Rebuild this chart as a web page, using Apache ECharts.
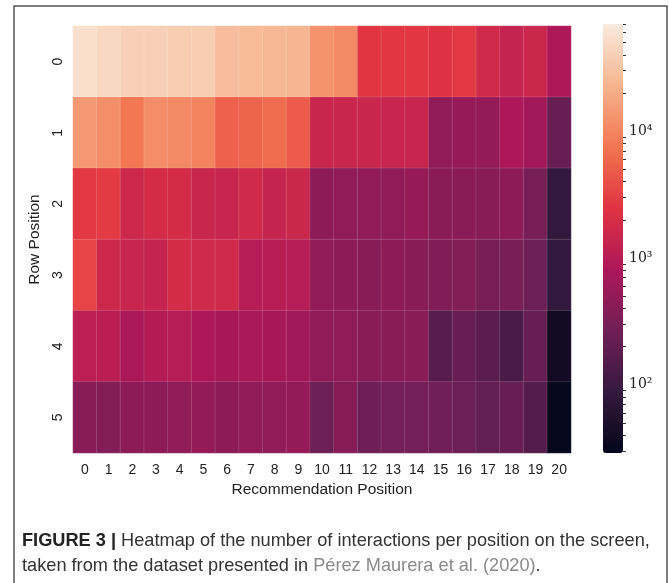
<!DOCTYPE html>
<html>
<head>
<meta charset="utf-8">
<script src="https://cdn.jsdelivr.net/npm/echarts@6/dist/echarts.min.js"></script>
<style>
  html, body { margin: 0; background: #fff; }
  #chart { width: 669px; height: 583px; }
</style>
</head>
<body>
<div id="chart"></div>
<script>
// recommendation position (x) and row position (y)
const colLabels = ['0','1','2','3','4','5','6','7','8','9','10','11','12','13','14','15','16','17','18','19','20'];
const rowLabels = ['0','1','2','3','4','5'];

// interaction counts per cell
const row0 = [55700, 47700, 40900, 40900, 37800, 37800, 27800, 26700, 24700, 23800, 12800, 10900, 2510, 2610, 2610, 2320, 2710, 1710, 1350, 1520, 850];
const row1 = [13800, 11800, 7730, 11400, 10900, 9750, 5450, 5670, 6360, 4850, 1460, 1460, 1460, 1410, 1410, 493, 533, 513, 817, 673, 228];
const row2 = [2710, 2820, 1580, 1840, 1840, 1460, 1410, 1710, 1350, 1520, 457, 475, 493, 475, 533, 423, 440, 407, 457, 310, 83];
const row3 = [3290, 1580, 1410, 1350, 1840, 1710, 1710, 991, 1030, 991, 493, 457, 407, 457, 407, 362, 377, 310, 310, 246, 83];
const row4 = [1110, 1070, 786, 953, 991, 817, 727, 756, 727, 673, 493, 475, 423, 423, 423, 167, 228, 180, 132, 228, 41];
const row5 = [407, 377, 457, 457, 475, 513, 457, 493, 475, 513, 246, 391, 255, 287, 287, 266, 246, 211, 228, 160, 32];
const rowValues = [row0, row1, row2, row3, row4, row5];

// colour bar range and ticks (log scale)
const colorMin = 29;
const colorMax = 70000;
const cbarMajor = [100, 1000, 10000];
const cbarMinor = [30, 40, 50, 60, 70, 80, 90,
  200, 300, 400, 500, 600, 700, 800, 900,
  2000, 3000, 4000, 5000, 6000, 7000, 8000, 9000,
  20000, 30000, 40000, 50000, 60000, 70000];

// seaborn "rocket"
const rocket = ['#03051a', '#35193e', '#701f57', '#ad1759', '#e13342', '#f37651', '#f6b48f', '#faebdd'];

const data = [];
rowValues.forEach((vals, r) => {
  vals.forEach((v, c) => {
    data.push([c, r, v, Math.log10(v)]);
  });
});

const sup = { 2: '²', 3: '³', 4: '⁴' };
const sansFont = 'Liberation Sans';

const myChart = echarts.init(document.getElementById('chart'));

const option = {
  animation: false,
  grid: [
    { left: 73, top: 26, width: 498, height: 427 },
    { left: 603, top: 24, width: 20, height: 429 }
  ],
  xAxis: [
    {
      type: 'category',
      data: colLabels,
      name: 'Recommendation Position',
      nameLocation: 'middle',
      nameGap: 28,
      nameTextStyle: { fontFamily: sansFont, fontSize: 15.5, color: '#222' },
      axisLine: { show: false },
      axisTick: { show: false },
      splitLine: { show: false },
      axisLabel: { fontFamily: sansFont, fontSize: 14, color: '#222', margin: 10, interval: 0 }
    },
    { gridIndex: 1, type: 'value', min: 0, max: 1, show: false }
  ],
  yAxis: [
    {
      type: 'category',
      data: rowLabels,
      inverse: true,
      name: 'Row Position',
      nameLocation: 'middle',
      nameGap: 30,
      nameTextStyle: { fontFamily: sansFont, fontSize: 15.5, color: '#222' },
      axisLine: { show: false },
      axisTick: { show: false },
      splitLine: { show: false },
      axisLabel: { fontFamily: sansFont, fontSize: 14, color: '#222', rotate: 90, margin: 8 }
    },
    {
      gridIndex: 1,
      type: 'value',
      position: 'right',
      min: Math.log10(colorMin),
      max: Math.log10(colorMax),
      axisLine: { show: false },
      splitLine: { show: false },
      axisTick: {
        customValues: cbarMajor.map(v => Math.log10(v)),
        length: 5,
        lineStyle: { color: '#333', width: 1 }
      },
      axisLabel: {
        customValues: cbarMajor.map(v => Math.log10(v)),
        formatter: v => '10' + sup[Math.round(v)],
        fontFamily: 'DejaVu Serif',
        fontSize: 14,
        color: '#222',
        margin: 6
      }
    },
    {
      gridIndex: 1,
      type: 'value',
      position: 'right',
      min: Math.log10(colorMin),
      max: Math.log10(colorMax),
      axisLine: { show: false },
      splitLine: { show: false },
      axisTick: {
        customValues: cbarMinor.map(v => Math.log10(v)),
        length: 3,
        lineStyle: { color: '#333', width: 1 }
      },
      axisLabel: { show: false }
    }
  ],
  visualMap: {
    type: 'continuous',
    seriesIndex: 0,
    dimension: 3,
    min: Math.log10(colorMin),
    max: Math.log10(colorMax),
    orient: 'vertical',
    left: 603,
    top: 24,
    itemWidth: 20,
    itemHeight: 429,
    padding: 0,
    calculable: false,
    hoverLink: false,
    inRange: { color: rocket }
  },
  series: [
    {
      type: 'heatmap',
      data: data,
      itemStyle: { borderColor: 'rgba(255,255,255,0.25)', borderWidth: 0.5 },
      emphasis: { disabled: true }
    }
  ],
  graphic: [
    {
      type: 'rect',
      shape: { x: 14, y: 6, width: 653, height: 620 },
      style: { fill: 'none', stroke: '#555', lineWidth: 1.5 },
      silent: true
    },
    {
      type: 'text',
      x: 22,
      y: 541,
      style: {
        text: '{b|FIGURE 3 |} Heatmap of the number of interactions per position on the screen,',
        fontFamily: sansFont,
        fontSize: 18.2,
        fill: '#333',
        verticalAlign: 'middle',
        rich: {
          b: { fontFamily: sansFont, fontSize: 18.2, fontWeight: 'bold', fill: '#222' }
        }
      }
    },
    {
      type: 'text',
      x: 22,
      y: 566,
      style: {
        text: 'taken from the dataset presented in {g|Pérez Maurera et al. (2020)}.',
        fontFamily: sansFont,
        fontSize: 18.2,
        fill: '#333',
        verticalAlign: 'middle',
        rich: {
          g: { fontFamily: sansFont, fontSize: 18.2, fill: '#8a8a8a' }
        }
      }
    }
  ]
};

myChart.setOption(option);
window.addEventListener('resize', () => myChart.resize());
</script>
</body>
</html>
